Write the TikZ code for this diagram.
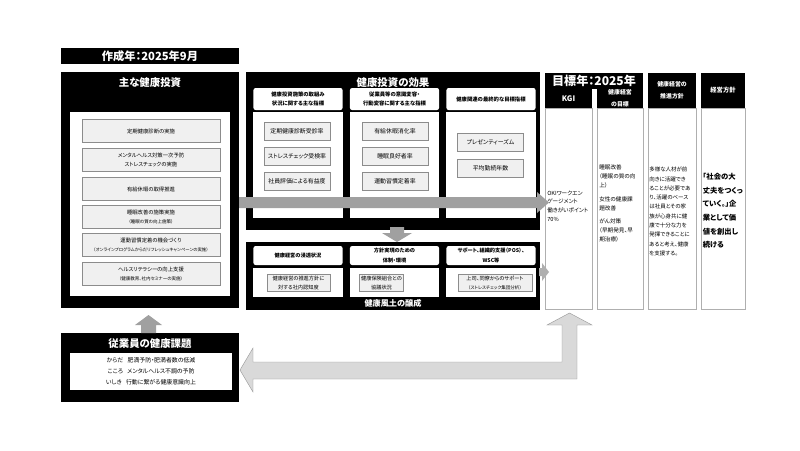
\documentclass[tikz,border=0pt]{standalone}
\usepackage{fontspec}
\setmainfont{Noto Sans CJK JP}[RawFeature=+palt]
\usetikzlibrary{positioning, calc}
\definecolor{bandgray}{RGB}{160,160,160}
\definecolor{arrowgray}{RGB}{217,217,217}
\definecolor{itemgray}{RGB}{240,240,240}
\definecolor{linegray}{RGB}{140,140,140}
\definecolor{colgray}{RGB}{175,175,175}
\newcommand{\jpsize}[2]{\fontsize{#1}{#2}\selectfont}

\begin{document}
\begin{tikzpicture}[x=0.025cm, y=-0.025cm, inner sep=0pt,
    blk/.style={fill=black},
    wht/.style={fill=white},
    ttl/.style={text=white, font=\bfseries\jpsize{7.4}{9}},
    invitem/.style={draw=linegray, fill=itemgray, minimum width=3.45cm, minimum height=0.575cm, align=center, font=\jpsize{3.8}{7}},
    effhead/.style={fill=white, rounded corners=1.5pt, minimum width=2.225cm, align=center, font=\bfseries\jpsize{3.8}{7}},
    effbody/.style={fill=white, minimum width=2.225cm},
    effitem/.style={draw=linegray, fill=itemgray, minimum width=1.65cm, minimum height=0.45cm, font=\jpsize{4.2}{6}},
    culitem/.style={draw=linegray, fill=itemgray, minimum height=0.425cm, align=center, font=\jpsize{3.7}{6.8}},
    colhead/.style={fill=black, text=white, align=center, font=\bfseries\jpsize{4.2}{8.2}},
    colbody/.style={draw=colgray, fill=white, minimum height=5.025cm},
    coltext/.style={anchor=west, align=left, font=\jpsize{3.9}{6.6}}
]
\useasboundingbox[fill=white] (0,0) rectangle (800,450);

% Creation date
\node[blk, ttl, minimum width=4.45cm, minimum height=0.4cm, font=\bfseries\jpsize{8}{9}] (made) at (150,56) {作成年：2025年9月};

% Main health investments
\node[blk, minimum width=4.45cm, minimum height=5.9cm] (invest) at (150,190) {};
\node[ttl] (investttl) at (150,82.5) {主な健康投資};
\node[wht, minimum width=4.0cm, minimum height=4.6cm] (investin) at (150,204) {};
\foreach \y/\txt [count=\i] in {%
    131/{定期健康診断の実施},
    160/{メンタルヘルス対策一次予防\\ストレスチェックの実施},
    189/{有給休暇の取得推進},
    217/{睡眠改善の施策実施\\{\jpsize{3.2}{6}（睡眠の質の向上施策）}},
    245/{運動習慣定着の機会づくり\\{\jpsize{3.1}{6}（オンラインプログラムからだリフレッシュキャンペーンの実施）}},
    274/{ヘルスリテラシーの向上支援\\{\jpsize{3.2}{6}（健康教育、社内セミナーの実施）}}} {
    \node[invitem] (inv\i) at (151,\y) {\txt};
}

% Effects of health investment
\node[blk, minimum width=7.35cm, minimum height=3.95cm] (effect) at (393,151) {};
\node[ttl] (effectttl) at (393,82.5) {健康投資の効果};
\foreach \x/\hd [count=\i] in {%
    298/{健康投資施策の取組み\\状況に関する主な指標},
    394.5/{従業員等の意識変容・\\行動変容に関する主な指標},
    491/{健康関連の最終的な目標指標}} {
    \node[effbody, minimum height=2.65cm] (effbody\i) at (\x,165) {};
    \node[effhead, minimum height=0.55cm] (effhead\i) at (\x,99) {\hd};
}
\foreach \y/\txt [count=\j] in {131/定期健康診断受診率, 156/ストレスチェック受検率, 181/社員評価による有益度}
    \node[effitem] (effa\j) at (297,\y) {\txt};
\foreach \y/\txt [count=\j] in {131/有給休暇消化率, 156/睡眠良好者率, 181/運動習慣定着率}
    \node[effitem] (effb\j) at (395,\y) {\txt};
\foreach \y/\txt [count=\j] in {142.5/プレゼンティーズム, 168/平均勤続年数}
    \node[effitem] (effc\j) at (490.5,\y) {\txt};

% Health culture
\node[blk, minimum width=7.35cm, minimum height=1.7cm] (culture) at (393,276) {};
\node[ttl, font=\bfseries\jpsize{5.8}{7}] (culturettl) at (393,303.5) {健康風土の醸成};
\foreach \x/\hd [count=\i] in {%
    298/{健康経営の浸透状況},
    394.5/{方針実現のための\\体制・環境},
    491/{サポート、組織的支援（POS）、\\WSC等}} {
    \node[effhead, minimum height=0.475cm, font=\bfseries\jpsize{3.7}{6.5}] (culhead\i) at (\x,255.5) {\hd};
    \node[effbody, minimum height=0.725cm] (culbody\i) at (\x,282.5) {};
}
\node[culitem, minimum width=1.575cm] (cula) at (298.5,283) {健康経営の推進方針に\\対する社内認知度};
\node[culitem, minimum width=1.1cm] (culb) at (381.5,283) {健康保険組合との\\協議状況};
\node[culitem, minimum width=1.85cm] (culc) at (495,283) {上司、同僚からのサポート\\{\jpsize{3.2}{6}（ストレスチェック集団分析）}};

% Goals
\node[blk, ttl, minimum width=2.45cm, minimum height=0.4cm, font=\bfseries\jpsize{8.6}{9}] (goal) at (594,80.5) {目標年：2025年};
\node[colhead, minimum width=1.175cm, minimum height=0.5cm, font=\bfseries\jpsize{5.4}{6}] (kgihead) at (568.5,98.5) {KGI};
\node[colhead, minimum width=1.15cm, minimum height=0.5cm] (targethead) at (620,98) {健康経営\\の目標};
\node[colhead, minimum width=1.2cm, minimum height=0.875cm] (policyhead) at (672,90.5) {健康経営の\\推進方針};
\node[colhead, minimum width=1.1cm, minimum height=0.875cm, font=\bfseries\jpsize{4.5}{8}] (mgmthead) at (723,90.5) {経営方針};
\foreach \nm/\x/\w in {kgi/568.5/1.175, target/620/1.15, policy/672/1.2, mgmt/723/1.1}
    \node[colbody, minimum width=\w cm] (\nm body) at (\x,208.5) {};

\node[coltext, font=\jpsize{4}{6.1}] (kgitxt) at (547,206) {OKIワークエン\\ゲージメント\\働きがいポイント\\70\%};
\node[coltext, font=\jpsize{4}{6.3}] (targettxt) at (599,203.5) {睡眠改善\\（睡眠の質の向\\上）\\[3.5pt]女性の健康課\\題改善\\[3.5pt]がん対策\\（早期発見、早\\期治療）};
\node[coltext] (policytxt) at (649,211.5) {多様な人材が前\\向きに活躍でき\\ることが必要であ\\り、活躍のベース\\は社員とその家\\族が心身共に健\\康で十分な力を\\発揮できることに\\あると考え、健康\\を支援する。};
\node[coltext, font=\bfseries\jpsize{5.2}{9.7}] (mgmttxt) at (702.5,211) {「社会の大\\丈夫をつくっ\\ていく。」企\\業として価\\値を創出し\\続ける};

% Employee health issues
\node[blk, minimum width=4.45cm, minimum height=1.725cm] (issue) at (150,367.5) {};
\node[ttl] (issuettl) at (150,343.5) {従業員の健康課題};
\node[wht, minimum width=4.05cm, minimum height=0.925cm, align=center, font=\jpsize{4.2}{7.8}] (issuein) at (151,371.5) {からだ\hspace{3pt}肥満予防・肥満者数の低減\\こころ\hspace{3pt}メンタルヘルス不調の予防\\いしき\hspace{3pt}行動に繋がる健康意識向上};

% Arrows
\fill[bandgray] (239,197) -- (537,197) -- (537,192) -- (549,202.5) -- (537,213) -- (537,208) -- (239,208) -- cycle;
\fill[bandgray] (390,227) -- (404,227) -- (404,233) -- (412,233) -- (397,242) -- (382,233) -- (390,233) -- cycle;
\fill[colgray] (539,268) -- (542,268) -- (542,263) -- (549,272) -- (542,281) -- (542,276) -- (539,276) -- cycle;
\fill[bandgray] (141,333) -- (141,325) -- (135,325) -- (148.5,315) -- (162,325) -- (156,325) -- (156,333) -- cycle;
\filldraw[fill=arrowgray, draw=gray!80, line width=0.3pt] (240,370) -- (253,348) -- (253,362) -- (562,362) -- (562,325) -- (547,325) -- (569.5,313) -- (592,325) -- (577,325) -- (577,379) -- (253,379) -- (253,392) -- cycle;
\end{tikzpicture}
\end{document}
